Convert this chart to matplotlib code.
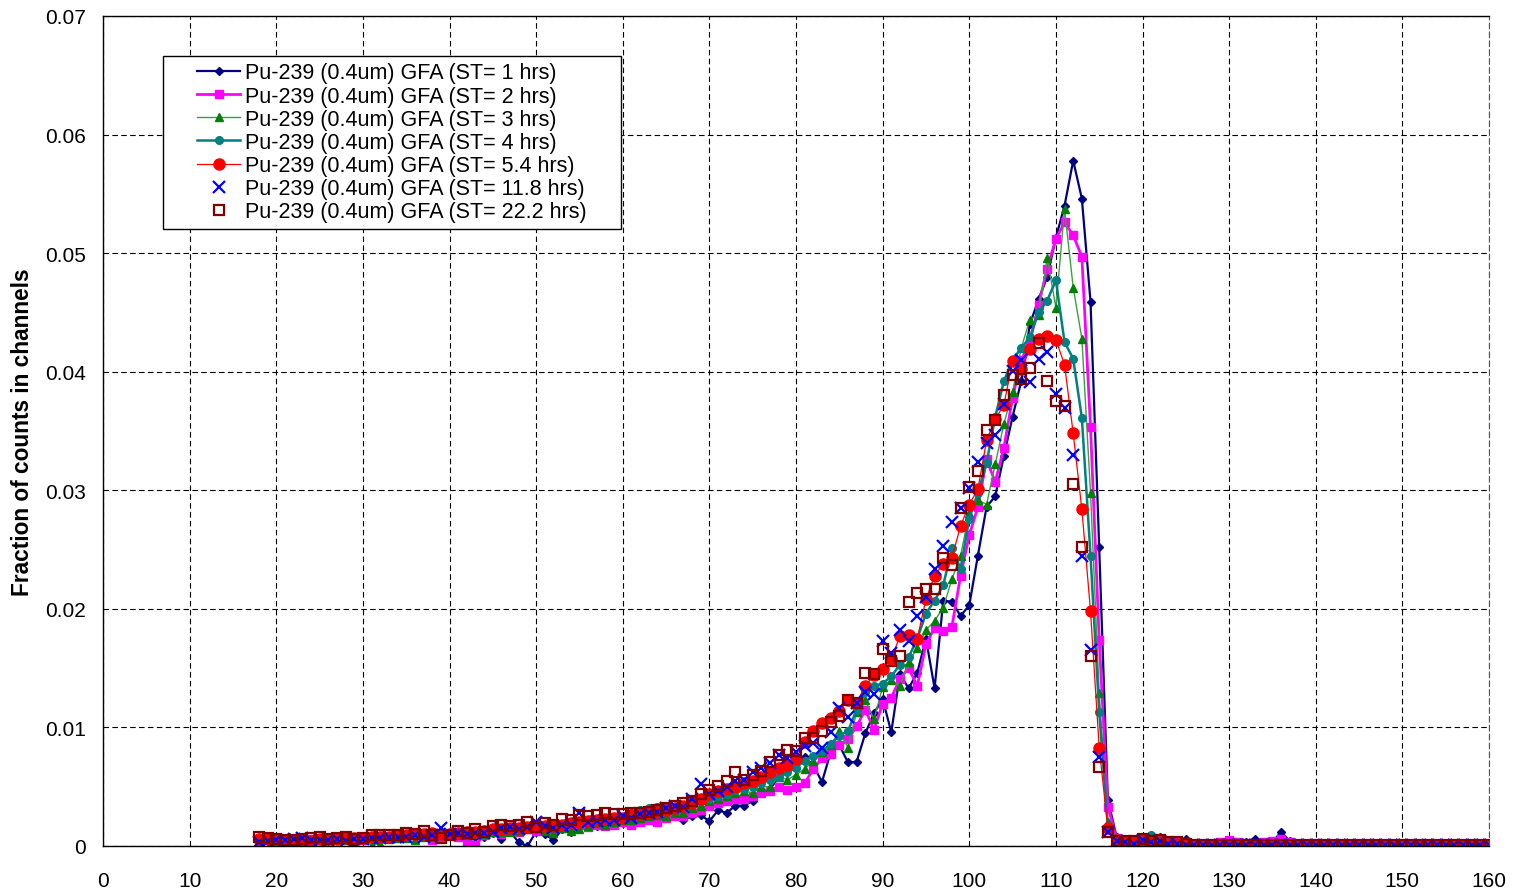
import numpy as np
import matplotlib
matplotlib.use("Agg")
import matplotlib.pyplot as plt
from matplotlib.patches import Rectangle

plt.rcParams['font.family'] = ['Liberation Sans', 'DejaVu Sans']

# channels
channels = list(range(18, 161))

# values in units of 1e-4 (fraction of counts), rows of 10 channels starting at 18, 28, ...
st1 = [3, 4, 1, 4, 5, 5, 6, 5, 4, 5,
       6, 0, 6, 6, 7, 7, 7, 8, 8, 9,
       8, 8, 9, 10, 10, 8, 8, 11, 6, 12,
       3, 0, 12, 10, 5, 14, 12, 16, 16, 17,
       17, 18, 19, 20, 22, 22, 22, 26, 25, 22,
       25, 26, 21, 30, 28, 34, 34, 38, 46, 48,
       58, 65, 66, 75, 68, 54, 79, 85, 70.5, 71,
       95, 112, 124, 96, 145, 133, 146, 175, 133, 207,
       206, 194, 203, 245, 286, 295, 329, 362, 392, 440,
       461, 480, 513, 540, 578, 546, 459, 252, 39, 8,
       4, 3, 3, 3, 8, 4, 2, 6, 2, 1,
       1, 2, 2, 2, 3, 6, 3, 3, 12, 4,
       1, 1, 1, 1, 1, 1, 1, 1, 1, 1,
       1, 1, 1, 1, 1, 1, 1, 1, 1, 1,
       1, 1, 1]
st2 = [6, 6, 4, 5, 5, 6, 6, 6, 5, 5,
       6, 6, 5, 7, 7, 8, 8, 8, 9, 9,
       5, 8, 9, 8, 4, 1, 9, 12, 10, 13,
       12, 14, 13, 15, 14, 15, 17, 18, 16, 18,
       17, 18, 20, 18, 20, 22, 20, 24, 25, 25,
       28, 30, 34, 36, 38, 40, 40, 42, 45, 46,
       50, 47, 50, 53, 65, 74, 78, 85, 90, 101,
       115, 98, 120, 125, 141, 150, 135, 170, 184, 181,
       185, 228, 262, 286, 326, 307, 336, 378, 410, 425,
       456, 487, 512, 526, 515, 497, 353, 174, 33, 7,
       3, 4, 4, 5, 5, 4, 3, 3, 2, 2,
       2, 3, 5, 3, 2, 2, 3, 4, 6, 3,
       1, 1, 1, 1, 1, 1, 1, 1, 1, 1,
       1, 1, 1, 1, 1, 1, 1, 1, 1, 1,
       1, 1, 1]
st3 = [5, 5, 5, 6, 5, 6, 6, 5, 6, 6,
       5, 6, 6, 1, 2, 6, 7, 7, 5, 8,
       8, 9, 9, 10, 9, 10, 10, 12, 12, 12,
       13, 14, 15, 13, 11, 15, 13, 14, 17, 19,
       18, 20, 22, 22, 24, 25, 26, 25, 28, 28,
       32, 34, 38, 40, 42, 45, 46, 45, 50, 50,
       58, 56, 60, 65, 72, 79, 85, 97, 83, 113,
       123, 107, 134, 140, 135, 155, 167, 182, 190, 201,
       225, 245, 281, 292, 288, 322, 356, 383, 420, 444,
       448, 496, 454, 537, 471, 428, 298, 129, 20, 6,
       4, 3, 5, 4, 3, 2, 2, 1, 1, 1,
       1, 1, 1, 1, 1, 1, 1, 1, 1, 1,
       1, 1, 1, 1, 1, 1, 1, 1, 1, 1,
       1, 1, 1, 1, 1, 1, 1, 1, 1, 1,
       1, 1, 1]
st4 = [4, 5, 5, 5, 6, 6, 6, 6, 6, 6,
       7, 7, 7, 7, 8, 8, 8, 9, 9, 10,
       10, 10, 10, 11, 12, 12, 13, 13, 14, 14,
       15, 16, 16, 16, 17, 18, 18, 19, 20, 21,
       22, 23, 24, 28, 30, 32, 33, 34, 33, 34,
       36, 38, 40, 42, 44, 47, 48, 50, 53, 56,
       58, 62, 66, 72, 76, 80, 86, 93, 97, 115,
       130, 135, 137, 143, 153, 159, 175, 196, 207, 220,
       251, 234, 276, 298, 323, 362, 392, 410, 420, 429,
       450, 460, 477, 425, 411, 361, 245, 113, 17, 5,
       4, 5, 4, 9, 5, 3, 2, 1, 1, 1,
       1, 1, 1, 1, 1, 1, 1, 1, 1, 1,
       1, 1, 1, 1, 1, 1, 1, 1, 1, 1,
       1, 1, 1, 1, 1, 1, 1, 1, 1, 1,
       1, 1, 1]
st5 = [6, 6, 5, 5, 5, 5, 4, 6, 6, 6,
       7, 7, 7, 8, 8, 8, 9, 9, 10, 10,
       11, 10, 10, 11, 12, 12, 13, 14, 14, 15,
       15, 16, 16, 17, 17, 18, 19, 20, 21, 22,
       23, 24, 24, 26, 27, 28, 29, 30, 32, 34,
       36, 40, 44, 46, 48, 50, 53, 55, 58, 62,
       66, 68, 73, 88, 97, 104, 108, 114, 123, 121,
       135, 144, 149, 158, 177, 178, 175, 208, 228, 238,
       243, 270, 288, 301, 342, 360, 372, 409, 402, 419,
       428, 430, 427, 406, 348, 284, 198, 83, 15, 5,
       3, 3, 6, 4, 3, 2, 2, 1, 1, 1,
       1, 1, 1, 1, 1, 1, 1, 1, 1, 1,
       1, 1, 1, 1, 1, 1, 1, 1, 1, 1,
       1, 1, 1, 1, 1, 1, 1, 1, 1, 1,
       1, 1, 1]
st6 = [3, 4, 5, 5, 6, 7, 5, 5, 5, 6,
       4, 6, 6, 7, 7, 8, 8, 8, 9, 8,
       9, 15, 10, 11, 10, 11, 11, 12, 15, 16,
       14, 16, 20, 17, 15, 18, 18, 28, 20, 21,
       22, 22, 25, 24, 27, 28, 29, 32, 34, 33,
       40, 52, 44, 46, 50, 55, 56, 62, 66, 70,
       77, 74, 79, 84, 87, 83, 96, 116, 109, 121,
       130, 128, 173, 163, 182, 173, 194, 210, 234, 253,
       273, 285, 302, 324, 340, 347, 373, 401, 410, 391,
       411, 417, 381, 369, 330, 245, 165, 75, 12, 4,
       3, 2, 5, 3, 4, 2, 2, 1, 1, 1,
       1, 1, 1, 1, 1, 1, 1, 1, 1, 1,
       1, 1, 1, 1, 1, 1, 1, 1, 1, 1,
       1, 1, 1, 1, 1, 1, 1, 1, 1, 1,
       1, 1, 1]
st7 = [8, 7, 6, 5, 5, 6, 7, 8, 6, 7,
       8, 6, 7, 9, 9, 9, 9, 11, 10, 13,
       9, 7, 9, 13, 11, 14, 12, 17, 18, 17,
       18, 20, 16, 19, 18, 23, 22, 26, 25, 26,
       28, 27, 27, 28, 28, 29, 30, 32, 34, 36,
       38, 44, 47, 51, 55, 62, 56, 60, 63, 71,
       77, 81, 80, 91, 91, 97, 105, 110, 123, 121,
       146, 145, 166, 156, 160, 206, 213, 217, 217, 243,
       237, 285, 303, 316, 351, 359, 380, 397, 394, 403,
       424, 392, 375, 371, 305, 252, 160, 67, 12, 4,
       4, 4, 6, 4, 5, 3, 3, 2, 1, 1,
       1, 1, 1, 1, 1, 1, 1, 1, 1, 1,
       1, 1, 1, 1, 1, 1, 1, 1, 1, 1,
       1, 1, 1, 1, 1, 1, 1, 1, 1, 1,
       1, 1, 1]

labels = ["Pu-239 (0.4um) GFA (ST= 1 hrs)",
          "Pu-239 (0.4um) GFA (ST= 2 hrs)",
          "Pu-239 (0.4um) GFA (ST= 3 hrs)",
          "Pu-239 (0.4um) GFA (ST= 4 hrs)",
          "Pu-239 (0.4um) GFA (ST= 5.4 hrs)",
          "Pu-239 (0.4um) GFA (ST= 11.8 hrs)",
          "Pu-239 (0.4um) GFA (ST= 22.2 hrs)"]

styles = [
    dict(color='#000080', lw=1.6, marker='D', ms=4.5, mfc='#000080', mec='#000080'),
    dict(color='#FF00FF', lw=2.0, marker='s', ms=5.5, mfc='#FF00FF', mec='#FF00FF'),
    dict(color='#3CA03C', lw=1.0, marker='^', ms=6, mfc='#008000', mec='#008000'),
    dict(color='#008080', lw=1.8, marker='o', ms=5.5, mfc='#008080', mec='#008080'),
    dict(color='#FF0000', lw=0.9, marker='o', ms=8, mfc='#FF0000', mec='#FF0000'),
    dict(color='#0000FF', lw=0, ls='none', marker='x', ms=8.5, mew=1.6),
    dict(color='#800000', lw=0, ls='none', marker='s', ms=7, mfc='none', mec='#800000', mew=1.6),
]

series = [st1, st2, st3, st4, st5, st6, st7]

W, H = 1513, 895
fig = plt.figure(figsize=(W / 100, H / 100), dpi=100)
ax = fig.add_axes([103 / W, 48 / H, 1386 / W, 830 / H])

x = np.array(channels)
for vals, lab, st in zip(series, labels, styles):
    y = np.asarray(vals, dtype=float) / 1e4
    ax.plot(x, y, label=lab, **st)

ax.set_xlim(0, 160)
ax.set_ylim(0, 0.07)
ax.set_xticks(np.arange(0, 161, 10))
ax.set_yticks(np.arange(0, 0.0701, 0.01))
ax.set_yticklabels(['0'] + ['%.2f' % v for v in np.arange(0.01, 0.0701, 0.01)])
ax.tick_params(axis='both', length=0, labelsize=15)
ax.tick_params(axis='x', pad=18)
ax.tick_params(axis='y', pad=12)
ax.grid(True, color='black', linestyle=(0, (5, 3)), linewidth=0.8)
ax.set_axisbelow(True)
for s in ['left', 'bottom', 'top']:
    ax.spines[s].set_linewidth(1.0)
    ax.spines[s].set_color('black')
ax.spines['right'].set_linestyle((0, (5, 3)))
ax.spines['right'].set_color('#555555')

ax.set_ylabel('Fraction of counts in channels', fontsize=16.3, fontweight='bold')
ax.yaxis.set_label_coords(-0.0497, 0.5)

fs = 15.5
pad_px = 0.3 * fs * 100 / 72
leg = ax.legend(loc='upper left',
                bbox_to_anchor=((197 - pad_px) / W, 1 - 57 / H),
                bbox_transform=fig.transFigure, fontsize=fs, frameon=False,
                labelspacing=0.1, handlelength=2.0, handletextpad=0.25,
                borderpad=0.3, borderaxespad=0)

fig.canvas.draw()
bb = leg.get_window_extent()
extra = 197 - 163 - pad_px
rect = Rectangle(((bb.x0 - extra) / W, bb.y0 / H),
                 (bb.width + 2 * extra) / W, bb.height / H,
                 transform=fig.transFigure, facecolor='white',
                 edgecolor='black', linewidth=1.0, zorder=leg.get_zorder() - 0.5)
fig.add_artist(rect)
leg.remove()
fig.add_artist(leg)
leg.set_zorder(rect.get_zorder() + 1)

fig.savefig('out.png', dpi=100)
